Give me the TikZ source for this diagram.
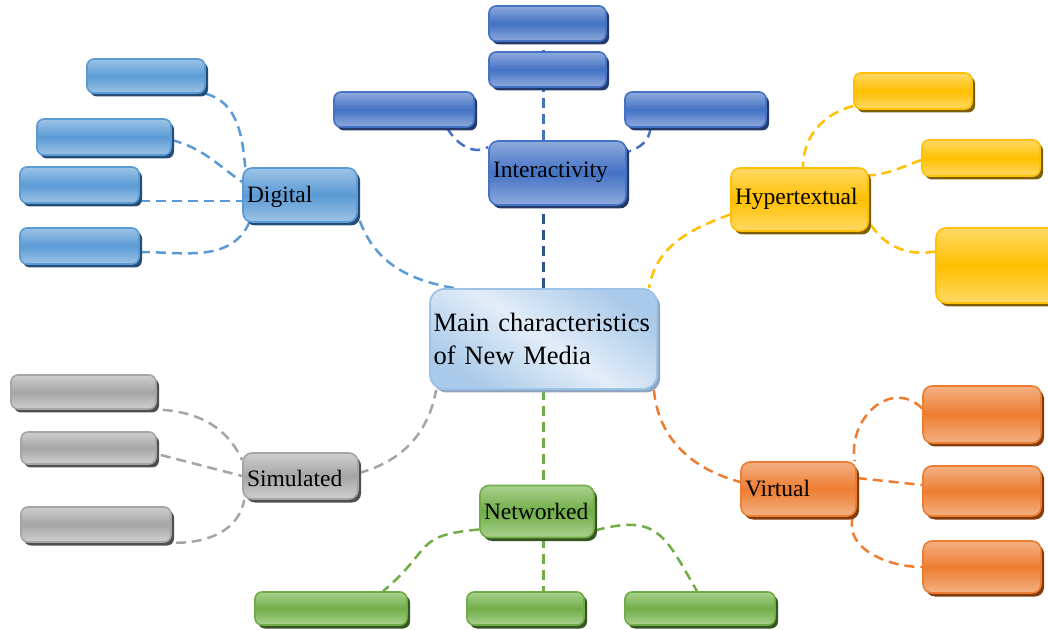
\documentclass[tikz,border=0pt]{standalone}
\usepackage{fontspec}
\setmainfont{Liberation Serif}
\usetikzlibrary{shadows,backgrounds}

% palette: main tone, light highlight, shadow tone
\definecolor{itcMain}{HTML}{4472C4}
\definecolor{itcLight}{HTML}{8FAADC}
\definecolor{itcDark}{HTML}{22396A}
\definecolor{itcLine}{HTML}{2F5597}
\definecolor{digMain}{HTML}{5B9BD5}
\definecolor{digLight}{HTML}{9DC3E6}
\definecolor{digDark}{HTML}{254E77}
\definecolor{hypMain}{HTML}{FFC000}
\definecolor{hypLight}{HTML}{FFD966}
\definecolor{hypDark}{HTML}{7F6000}
\definecolor{virMain}{HTML}{ED7D31}
\definecolor{virLight}{HTML}{F4B183}
\definecolor{virDark}{HTML}{843C0C}
\definecolor{simMain}{HTML}{A5A5A5}
\definecolor{simLight}{HTML}{CFCFCF}
\definecolor{simDark}{HTML}{4F4F4F}
\definecolor{netMain}{HTML}{70AD47}
\definecolor{netLight}{HTML}{A9D18E}
\definecolor{netDark}{HTML}{375623}
\definecolor{hubEdge}{HTML}{9DC3E6}
\definecolor{hubLight}{HTML}{E3EDF8}
\definecolor{hubMid}{HTML}{A9CAE9}
\definecolor{hubShadow}{HTML}{8EA6C2}

% glossy rounded box style: name, main tone, highlight, shadow tone
\newcommand\mkglossy[4]{%
  \tikzset{#1/.style={draw=#2, line width=1.6pt, rounded corners=7pt,
    top color=#3, bottom color=#3, middle color=#2,
    drop shadow={shadow xshift=3pt, shadow yshift=-3.5pt, fill=#4, opacity=1}}}}
\mkglossy{itc}{itcMain}{itcLight}{itcDark}
\mkglossy{dig}{digMain}{digLight}{digDark}
\mkglossy{hyp}{hypMain}{hypLight}{hypDark}
\mkglossy{vir}{virMain}{virLight}{virDark}
\mkglossy{sim}{simMain}{simLight}{simDark}
\mkglossy{net}{netMain}{netLight}{netDark}

\tikzset{
  hub/.style={draw=hubEdge, line width=1.8pt, rounded corners=14pt,
    top color=hubMid, bottom color=hubMid, middle color=hubLight, shading angle=-35,
    drop shadow={shadow xshift=3pt, shadow yshift=-3.5pt, fill=hubShadow, opacity=1}},
  sz/.style 2 args={minimum width=#1pt, minimum height=#2pt, inner sep=0pt},
  lbl/.style={rounded corners=9pt, font=\fontsize{23.5}{28}\selectfont, align=left,
    inner xsep=4pt, text width=#1pt, text height=15.5pt, text depth=0pt},
  link/.style={draw=#1, line width=2.5pt, dash pattern=on 10pt off 6pt}
}

\begin{document}
\begin{tikzpicture}[x=1pt, y=1pt]
\useasboundingbox (0,0) rectangle (1048,629);

% central topic
\node[hub, sz={227}{100}, font=\fontsize{26.5}{33}\selectfont, align=left,
      text width=220pt, inner xsep=3.5pt] (C) at (543.5,290) {Main characteristics\\of New Media};

% Interactivity branch
\node[itc, sz={137}{64}, lbl=129, text depth=5.5pt] (Int) at (557.5,456) {Interactivity};
\node[itc, sz={117}{35}] (it1) at (547.5,605.5) {};
\node[itc, sz={117}{35}] (it2) at (547.5,559.5) {};
\node[itc, sz={140}{35}] (il) at (404,519.5) {};
\node[itc, sz={141}{35}] (ir) at (695.5,519.5) {};

% Digital branch
\node[dig, sz={114}{54}, lbl=106] (Dig) at (300,434) {Digital};
\node[dig, sz={118}{34}] (d1) at (146,553) {};
\node[dig, sz={134}{36}] (d2) at (104,492) {};
\node[dig, sz={119}{36}] (d3) at (79.5,444) {};
\node[dig, sz={119}{36}] (d4) at (79.5,383) {};

% Hypertextual branch
\node[hyp, sz={137}{63}, lbl=129, text depth=4.5pt] (Hyp) at (799.5,429.5) {Hypertextual};
\node[hyp, sz={118}{36}] (h1) at (913,538) {};
\node[hyp, sz={118}{36}] (h2) at (981,471) {};
\node[hyp, sz={125}{75}, rounded corners=10pt] (h3) at (998.5,363.5) {};

% Virtual branch
\node[vir, sz={115}{54}, lbl=107] (Vir) at (798.5,140) {Virtual};
\node[vir, sz={118}{57}, rounded corners=9pt] (v1) at (982,214.5) {};
\node[vir, sz={118}{50}, rounded corners=9pt] (v2) at (982,138) {};
\node[vir, sz={118}{52}, rounded corners=9pt] (v3) at (982,62) {};

% Simulated branch
\node[sim, sz={115}{46}, lbl=107, text height=21pt] (Sim) at (300.5,153) {Simulated};
\node[sim, sz={145}{34}] (s1) at (83.5,237) {};
\node[sim, sz={135}{32}] (s2) at (88.5,181) {};
\node[sim, sz={150}{35}] (s3) at (96,104.5) {};

% Networked branch
\node[net, sz={114}{52}, lbl=106] (Net) at (537,117.5) {Networked};
\node[net, sz={152}{33}] (n1) at (331,20.5) {};
\node[net, sz={117}{33}] (n2) at (525.5,20.5) {};
\node[net, sz={150}{33}] (n3) at (700,20.5) {};

\begin{scope}[on background layer]
  \fill[white] (0,0) rectangle (1048,629);

  % Interactivity connectors
  \draw[link=itcLine] (C.north) -- (C.north |- Int.south);
  \draw[link=itcMain] (Int.north -| C.north) -- (it2.south -| C.north);
  \draw[link=itcMain] (Int.north -| C.north) -- (it1.south -| C.north);
  \draw[link=itcMain] ([xshift=43pt]il.south) to[out=-60,in=210] ([yshift=26pt]Int.west);
  \draw[link=itcMain] ([xshift=-45pt]ir.south) to[out=-95,in=15] ([yshift=21pt]Int.east);

  % Digital connectors
  \draw[link=digMain] (d1.south east) to[out=-15,in=95] ([xshift=3pt]Dig.north west);
  \draw[link=digMain] ([yshift=-3pt]d2.east) to[out=-15,in=145] ([yshift=13pt]Dig.west);
  \draw[link=digMain] ([yshift=-16pt]d3.east) -- ([yshift=-6pt]Dig.west);
  \draw[link=digMain] ([yshift=-6pt]d4.east) to[out=0,in=245] ([xshift=7pt]Dig.south west);
  \draw[link=digMain] ([xshift=2pt,yshift=2pt]Dig.south east) to[out=-70,in=170] ([xshift=25pt]C.north west);

  % Hypertextual connectors
  \draw[link=hypMain] ([yshift=-15pt]h1.west) to[out=195,in=90] ([xshift=3.5pt]Hyp.north);
  \draw[link=hypMain] ([yshift=-2pt]h2.west) to[out=200,in=5] ([yshift=24pt]Hyp.east);
  \draw[link=hypMain] ([yshift=14pt]h3.west) to[out=190,in=-60] ([yshift=-22pt]Hyp.east);
  \draw[link=hypMain] ([yshift=-15pt]Hyp.west) to[out=200,in=80] ([xshift=-9pt]C.north east);

  % Virtual connectors
  \draw[link=virMain] ([yshift=6pt]v1.west) to[out=135,in=100,looseness=1.3] ([xshift=-2pt]Vir.north east);
  \draw[link=virMain] ([yshift=11pt]Vir.east) -- ([yshift=6pt]v2.west);
  \draw[link=virMain] ([xshift=-4pt]Vir.south east) to[out=-105,in=180] (v3.west);
  \draw[link=virMain] ([xshift=-4pt]C.south east) to[out=-85,in=165] ([yshift=7pt]Vir.west);

  % Simulated connectors
  \draw[link=simMain] ([xshift=6pt]s1.south east) to[out=-5,in=115] ([yshift=-8pt]Sim.north west);
  \draw[link=simMain] ([xshift=4pt,yshift=-7pt]s2.east) -- (Sim.west);
  \draw[link=simMain] ([xshift=4pt]s3.south east) to[out=0,in=-100] ([xshift=2pt]Sim.south west);
  \draw[link=simMain] ([yshift=3pt]Sim.east) to[out=15,in=-100] ([xshift=7pt]C.south west);

  % Networked connectors
  \draw[link=netMain] (C.south) -- (C.south |- Net.north);
  \draw[link=netMain] ([yshift=-18pt]Net.west) to[out=185,in=40,looseness=1.5] ([xshift=52pt]n1.north);
  \draw[link=netMain] (Net.south -| C.south) -- (n2.north -| C.south);
  \draw[link=netMain] ([yshift=-19pt]Net.east) to[out=15,in=120,looseness=1.4] ([xshift=-3pt]n3.north);
\end{scope}
\end{tikzpicture}
\end{document}
